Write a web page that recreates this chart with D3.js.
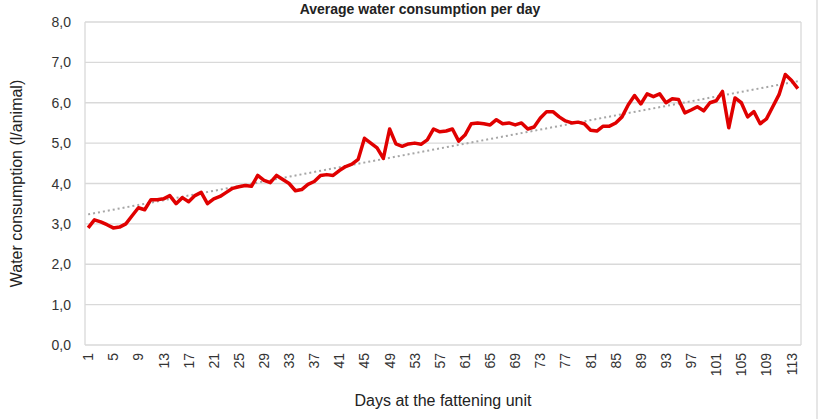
<!DOCTYPE html>
<html><head><meta charset="utf-8">
<script src="https://cdn.jsdelivr.net/npm/d3@7"></script>
<style>body{margin:0;background:#fff;font-family:Arial,"Liberation Sans",sans-serif}</style>
</head><body><svg id="c" width="820" height="419"></svg>
<script>
const titleText = "Average water consumption per day";
const yTicks = [0,1,2,3,4,5,6,7,8];
const values = [2.9,3.1,3.05,2.98,2.9,2.92,3.0,3.2,3.4,3.35,3.6,3.6,3.62,3.7,3.5,3.65,3.55,3.7,3.78,3.5,
3.62,3.68,3.78,3.88,3.92,3.95,3.93,4.2,4.08,4.02,4.2,4.1,4.0,3.82,3.85,3.98,4.05,4.2,4.22,4.2,
4.32,4.42,4.48,4.6,5.12,5.0,4.88,4.62,5.35,4.98,4.92,4.98,5.0,4.97,5.08,5.35,5.28,5.3,5.35,5.05,
5.2,5.48,5.5,5.48,5.45,5.58,5.48,5.5,5.45,5.5,5.35,5.4,5.62,5.78,5.78,5.65,5.55,5.5,5.52,5.48,
5.32,5.3,5.42,5.42,5.5,5.65,5.95,6.18,5.97,6.22,6.15,6.22,6.0,6.1,6.08,5.75,5.82,5.9,5.8,6.0,
6.05,6.28,5.38,6.12,6.0,5.65,5.78,5.48,5.6,5.9,6.2,6.7,6.55,6.35];
const days = values.map((v,i)=>i+1);

const svg = d3.select("#c");
const m = {l:85, r:801, t:22, b:345};
const x = d3.scaleBand().domain(days).range([m.l,m.r]);
const y = d3.scaleLinear().domain([0,8]).range([m.b,m.t]);

svg.append("text").attr("x",420).attr("y",14).attr("text-anchor","middle")
  .attr("font-size",14).attr("font-weight","bold").attr("fill","#222").text(titleText);

svg.append("g").selectAll("line").data(yTicks).join("line")
  .attr("x1",m.l).attr("x2",m.r).attr("y1",d=>y(d)).attr("y2",d=>y(d))
  .attr("stroke","#d9d9d9").attr("stroke-width",1.3);
svg.append("line").attr("x1",m.l).attr("x2",m.l).attr("y1",m.t).attr("y2",m.b).attr("stroke","#d9d9d9").attr("stroke-width",1.3);
svg.append("line").attr("x1",m.r).attr("x2",m.r).attr("y1",m.t).attr("y2",m.b).attr("stroke","#d9d9d9").attr("stroke-width",1.3);
svg.append("line").attr("x1",817).attr("x2",817).attr("y1",0).attr("y2",419).attr("stroke","#e6e6e6").attr("stroke-width",2);

svg.append("g").selectAll("text").data(yTicks).join("text")
  .attr("x",m.l-14).attr("y",d=>y(d)+5).attr("text-anchor","end")
  .attr("font-size",14).attr("fill","#333").text(d=>d.toFixed(1).replace(".",","));

const xl = days.filter(d=>(d-1)%4===0);
svg.append("g").selectAll("text").data(xl).join("text")
  .attr("transform",d=>`translate(${x(d)+x.bandwidth()/2+5},${m.b+8}) rotate(-90)`)
  .attr("text-anchor","end").attr("font-size",14).attr("fill","#333").text(d=>d);

// linear trendline (least squares)
const n = days.length, mx = d3.mean(days), my = d3.mean(values);
const slope = d3.sum(days,(d,i)=>(d-mx)*(values[i]-my))/d3.sum(days,d=>(d-mx)**2);
const icpt = my - slope*mx;
const cx = d=>x(d)+x.bandwidth()/2;
svg.append("line").attr("x1",cx(1)).attr("x2",cx(n)).attr("y1",y(icpt+slope)).attr("y2",y(icpt+slope*n))
  .attr("stroke","#a6a6a6").attr("stroke-width",2).attr("stroke-dasharray","2,3");

svg.append("path").datum(values).attr("fill","none").attr("stroke","#e00000").attr("stroke-width",3.5)
  .attr("stroke-linejoin","round")
  .attr("d",d3.line().x((v,i)=>cx(days[i])).y(v=>y(v)));

svg.append("text").attr("transform",`translate(22,${(m.t+m.b)/2}) rotate(-90)`).attr("text-anchor","middle")
  .attr("font-size",16).attr("fill","#222").text("Water consumption (l/animal)");
svg.append("text").attr("x",(m.l+m.r)/2).attr("y",406).attr("text-anchor","middle")
  .attr("font-size",16).attr("fill","#222").text("Days at the fattening unit");
</script></body></html>
